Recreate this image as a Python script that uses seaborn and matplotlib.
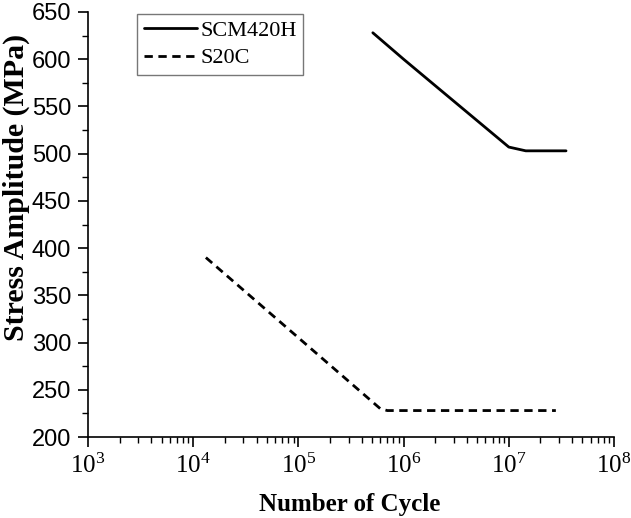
import matplotlib
matplotlib.use("Agg")
import matplotlib.pyplot as plt
import matplotlib.ticker as mticker
import numpy as np
import pandas as pd
import seaborn as sns

# Data
scm_cycles = [5.1e5, 1.0e6, 2.1e6, 1.0e7, 1.45e7, 3.5e7]
scm_stress = [628, 600, 570, 507, 503, 503]
s20c_cycles = [1.32e4, 6.0e5, 7.0e5, 2.8e7]
s20c_stress = [390, 230, 228, 228]
series_names = ["SCM420H", "S20C"]
x_tick_values = [1e3, 1e4, 1e5, 1e6, 1e7, 1e8]
x_tick_labels = [r"$\mathrm{10^{3}}$", r"$\mathrm{10^{4}}$", r"$\mathrm{10^{5}}$",
                 r"$\mathrm{10^{6}}$", r"$\mathrm{10^{7}}$", r"$\mathrm{10^{8}}$"]
y_ticks = [200, 250, 300, 350, 400, 450, 500, 550, 600, 650]

df = pd.DataFrame({
    "cycles": scm_cycles + s20c_cycles,
    "stress": scm_stress + s20c_stress,
    "material": [series_names[0]] * len(scm_cycles) + [series_names[1]] * len(s20c_cycles),
})

sns.set_theme(style="ticks")
plt.rcParams["font.family"] = ["Liberation Serif", "DejaVu Serif"]
plt.rcParams["mathtext.fontset"] = "custom"
plt.rcParams["mathtext.rm"] = "Liberation Serif"
plt.rcParams["mathtext.it"] = "Liberation Serif:italic"
plt.rcParams["mathtext.bf"] = "Liberation Serif:bold"
for key in ["text.color", "axes.labelcolor", "xtick.color", "ytick.color",
            "xtick.labelcolor", "ytick.labelcolor", "axes.edgecolor"]:
    plt.rcParams[key] = "black"

fig = plt.figure(figsize=(6.31, 5.18), dpi=100)
ax = fig.add_axes([88 / 631, 1 - 437 / 518, (614 - 88) / 631, (437 - 12) / 518])

sns.lineplot(data=df, x="cycles", y="stress", style="material",
             dashes={"SCM420H": "", "S20C": (3, 2)}, color="black",
             linewidth=2.0, sort=False, estimator=None, ax=ax, legend=True)

ax.set_xscale("log")
ax.set_xlim(1e3, 1e8)
ax.set_ylim(200, 650)
ax.set_xticks(x_tick_values)
ax.xaxis.set_major_formatter(mticker.FixedFormatter(x_tick_labels))
ax.xaxis.set_minor_locator(mticker.LogLocator(base=10, subs=np.arange(2, 10), numticks=20))
ax.xaxis.set_minor_formatter(mticker.NullFormatter())
ax.set_yticks(y_ticks)
ax.yaxis.set_minor_locator(mticker.MultipleLocator(25))

for lab in ax.get_yticklabels():
    lab.set_fontfamily(["Liberation Sans", "DejaVu Sans"])
    lab.set_fontsize(17)
for lab in ax.get_xticklabels():
    lab.set_fontsize(18)

ax.tick_params(axis="both", which="major", length=7, width=1.2, color="black",
               labelcolor="black", direction="out")
ax.tick_params(axis="both", which="minor", length=4, width=1.0, color="black", direction="out")
ax.tick_params(axis="y", which="major", pad=5)
ax.tick_params(axis="x", which="major", pad=5)

for side in ["top", "right"]:
    ax.spines[side].set_visible(False)
for side in ["left", "bottom"]:
    ax.spines[side].set_color("black")
    ax.spines[side].set_linewidth(1.2)

ax.set_xlabel("Number of Cycle", fontsize=18, fontweight="bold", color="black")
ax.xaxis.set_label_coords((350 - 88) / (614 - 88), -(504 - 437) / 425)
ax.xaxis.label.set_verticalalignment("center")
ax.set_ylabel("Stress Amplitude (MPa)", fontsize=21.5, fontweight="bold", color="black")
ax.yaxis.set_label_coords(-(88 - 16) / (614 - 88), (437 - 187) / 425)
ax.yaxis.label.set_verticalalignment("center")

leg = ax.legend(loc="upper left", bbox_to_anchor=(137 / 631, 1 - 14 / 518),
                bbox_transform=fig.transFigure, borderaxespad=0, fontsize=16,
                frameon=True, fancybox=False, edgecolor="#555555",
                handlelength=2.4, handletextpad=0.15, labelspacing=0.3,
                borderpad=0.3, title=None)
leg.get_frame().set_linewidth(1.0)
for line in leg.get_lines():
    line.set_linewidth(2.0)
for txt in leg.get_texts():
    txt.set_color("black")

fig.savefig("out.png", dpi=100, facecolor="white")
